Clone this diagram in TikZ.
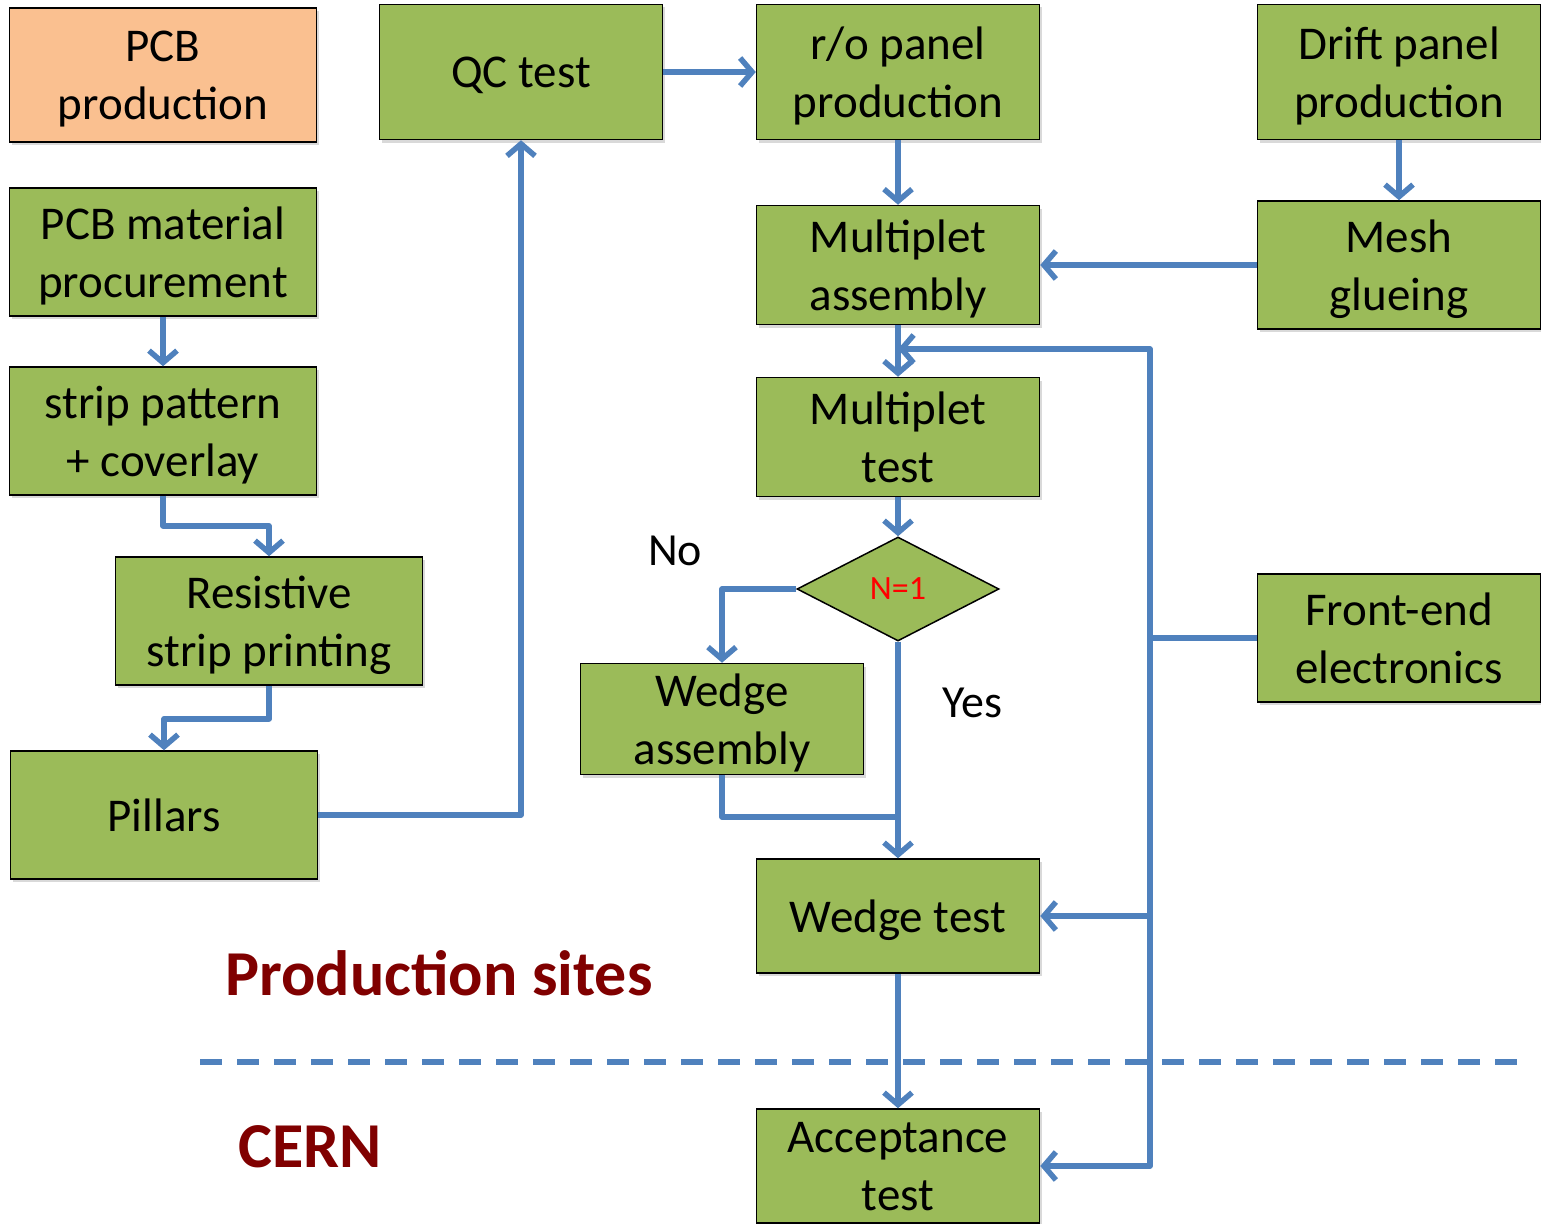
\documentclass[tikz,border=0pt]{standalone}
\usepackage{fontspec}
\setmainfont{Carlito}
\usetikzlibrary{arrows.meta,shapes.geometric,shadows}
\definecolor{boxgreen}{RGB}{155,187,89}
\definecolor{pcbpeach}{RGB}{250,192,144}
\definecolor{flowblue}{RGB}{79,129,189}
\definecolor{sitered}{RGB}{128,0,0}
\begin{document}
\begin{tikzpicture}[x=1pt, y=-1pt,
    box/.style = {draw, line width=1.5pt, fill=boxgreen, align=center, inner sep=0pt,
                  minimum width=283pt, minimum height=128pt, text depth=0pt,
                  font=\fontsize{47}{58}\selectfont,
                  drop shadow={opacity=0.3, shadow xshift=2pt, shadow yshift=-3pt}},
    widebox/.style = {box, minimum width=307pt},
    decision/.style = {draw, line width=1.5pt, fill=boxgreen, diamond, inner sep=0pt,
                  minimum width=202pt, minimum height=104pt, text=red,
                  font=\fontsize{34}{40}\selectfont},
    flow/.style = {draw=flowblue, line width=5.5pt, line join=round},
    arr/.style = {flow, -{Straight Barb[length=12pt, width=28pt]}},
    word/.style = {font=\fontsize{46}{58}\selectfont},
    site/.style = {text=sitered, font=\fontsize{64}{70}\selectfont\bfseries}]
    \useasboundingbox (0,0) rectangle (1541,1223);
    % left column
    \node[widebox, fill=pcbpeach, minimum height=134pt] (pcb) at (163,75) {PCB\\production};
    \node[widebox] (mat) at (163,252) {PCB material\\procurement};
    \node[widebox] (strip) at (163,431) {strip pattern\\+ coverlay};
    \node[widebox] (res) at (269,621) {Resistive\\strip printing};
    \node[widebox] (pil) at (164,815) {Pillars};
    % middle
    \node[box, minimum height=135pt] (qc) at (521,72) {QC test};
    \node[box, minimum height=135pt] (ro) at (898,72) {r/o panel\\production};
    \node[box, minimum height=119pt] (massy) at (898,265) {Multiplet\\assembly};
    \node[box, minimum height=119pt] (mtest) at (898,437) {Multiplet\\test};
    \node[decision] (n1) at (898,589) {N=1};
    \node[box, minimum height=111pt] (wassy) at (722,719) {Wedge\\assembly};
    \node[box, minimum height=114pt] (wtest) at (898,916) {Wedge test};
    \node[box, minimum height=114pt] (acc) at (898,1166) {Acceptance\\test};
    % right column
    \node[box, minimum height=135pt] (drift) at (1399,72) {Drift panel\\production};
    \node[box] (mesh) at (1399,265) {Mesh\\glueing};
    \node[box] (fe) at (1399,638) {Front-end\\electronics};
    % labels
    \node[word] (no) at (675,551) {No};
    \node[word] (yes) at (972,703) {Yes};
    \node[site] (prod) at (439,973) {Production sites};
    \node[site] (cern) at (310,1147) {CERN};
    % helper points
    \coordinate (bus) at (1150,638);
    \coordinate (bustop) at (1150,349);
    \coordinate (mfb) at (898,349);
    \coordinate (wjoin) at (898,817);
    \coordinate (dl) at (200,1062);
    \coordinate (dr) at (1530,1062);
    % connectors
    \draw[arr] (mat.south) -- (strip.north);
    \draw[arr] (strip.south) -- ++(0,30) -| (res.north);
    \draw[arr] (res.south) -- ++(0,33) -| (pil.north);
    \draw[arr] (pil.east) -| (qc.south);
    \draw[arr] (qc.east) -- (ro.west);
    \draw[arr] (ro.south) -- (massy.north);
    \draw[arr] (drift.south) -- (mesh.north);
    \draw[arr] (mesh.west) -- (massy.east);
    \draw[arr] (massy.south) -- (mtest.north);
    \draw[arr] (mtest.south) -- (n1.north);
    \draw[arr] (n1.west) -| (wassy.north);
    \draw[arr] (n1.south) -- (wtest.north);
    \draw[flow] (wassy.south) |- (wjoin);
    \draw[arr] (wtest.south) -- (acc.north);
    \draw[flow] (fe.west) -- (bus);
    \draw[arr] (bus) -- (bustop) -- (mfb);
    \draw[arr] (bus) |- (wtest.east);
    \draw[arr] (bus) |- (acc.east);
    \draw[flow, line join=miter, dash pattern=on 22pt off 15pt] (dl) -- (dr);
\end{tikzpicture}
\end{document}
